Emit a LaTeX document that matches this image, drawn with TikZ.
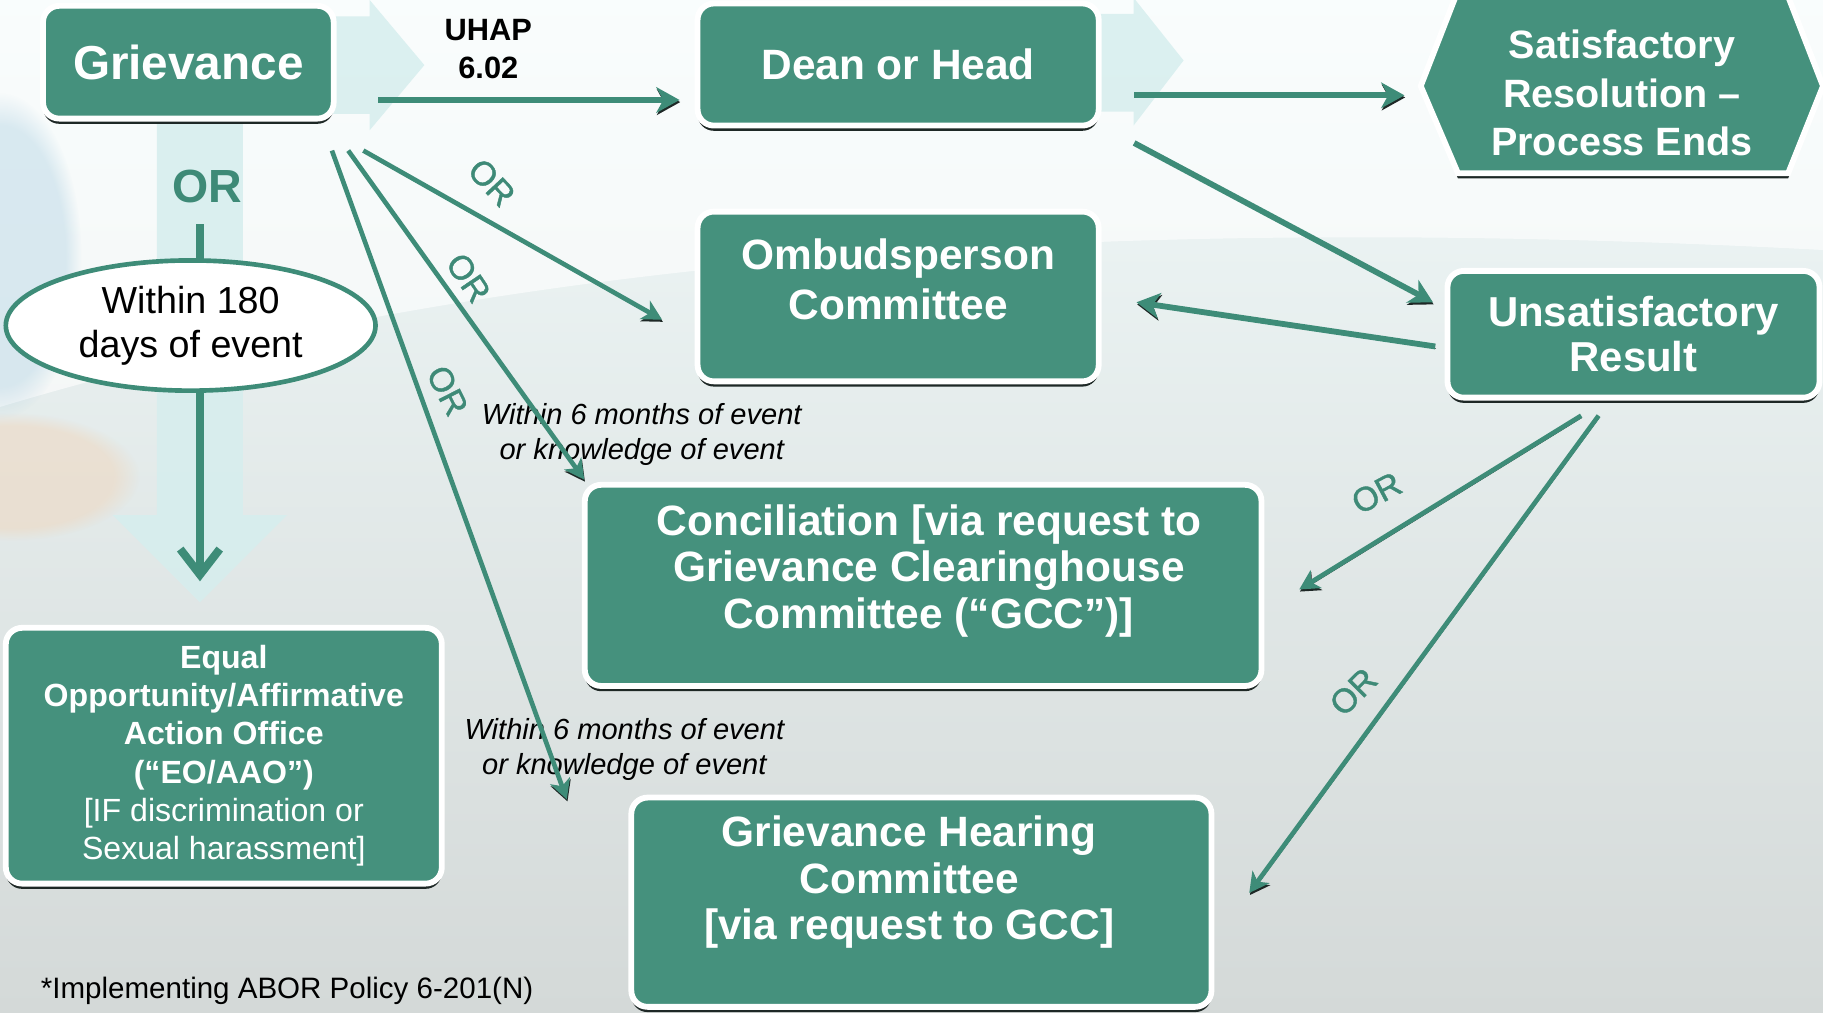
\documentclass[tikz,border=0pt]{standalone}
\usepackage{fontspec}
\setmainfont{Liberation Sans}
\newfontfamily\orfont[FakeBold=1.2]{Liberation Sans}
\usetikzlibrary{arrows.meta,calc,shapes.geometric,shadows,fadings}
\definecolor{boxteal}{HTML}{45917D}
\definecolor{arrteal}{HTML}{3E8C78}
\definecolor{orteal}{HTML}{3E8A77}
\definecolor{shadowc}{HTML}{1E2826}
\definecolor{bgtop}{HTML}{F1FAFA}
\definecolor{bgbot}{HTML}{D4D9D8}
\definecolor{pale}{HTML}{D6EEEE}
\definecolor{leftblue}{HTML}{B4D4E4}
\definecolor{peach}{HTML}{F0D6BC}
\newcommand\fsz[2]{\fontsize{#1}{#2}\selectfont}
\begin{document}
\begin{tikzpicture}[x=1pt,y=-1pt,
  box/.style={rectangle, rounded corners=14pt, fill=boxteal, draw=white, line width=5pt,
    inner sep=0pt, text=white, font=\bfseries\fsz{36.5}{40}, align=center,
    drop shadow={shadow xshift=0pt, shadow yshift=-4.5pt, fill=shadowc, opacity=1}},
  boxtext/.style={text=white, font=\bfseries\fsz{36.5}{40}, align=center, inner sep=0pt},
  arr/.style={draw=arrteal, line width=5pt, -{Stealth[length=20pt,width=22pt,inset=6pt]},
    preaction={draw=shadowc, transform canvas={xshift=0.6pt,yshift=-1.8pt}}},
  fan/.style={arr, line width=4pt, -{Stealth[length=17pt,width=18pt,inset=5pt]}},
  orlab/.style={text=orteal, font=\orfont\fsz{29}{32}, inner sep=0pt},
  note/.style={font=\itshape\fsz{25}{30}, align=center, inner sep=0pt},
  paleshape/.style={fill=pale, opacity=0.85}
]
\useasboundingbox (0,0) rectangle (1568,871);
% background
\shade[top color=bgtop, bottom color=bgbot] (0,0) rectangle (1568,871);
\fill[white, opacity=0.6] (0,0) -- (1568,0) -- (1568,215) .. controls (900,180) and (400,230) .. (0,350) -- cycle;
\fill[leftblue, opacity=0.45, path fading=circle with fuzzy edge 20 percent] (0,220) ellipse [x radius=70, y radius=140];
\fill[peach, opacity=0.5, path fading=circle with fuzzy edge 20 percent] (10,410) ellipse [x radius=110, y radius=55];
% pale block arrows
\fill[paleshape] (135,100) -- (209,100) -- (209,443) -- (247,443) -- (172,518) -- (97,443) -- (135,443) -- cycle;
\fill[paleshape] (280,14) -- (318,14) -- (318,0) -- (365,56) -- (318,112) -- (318,98) -- (280,98) -- cycle;
\fill[paleshape] (940,12) -- (975,12) -- (975,-2) -- (1018,52) -- (975,108) -- (975,96) -- (940,96) -- cycle;

% boxes
\node[box, minimum width=250, minimum height=97, font=\bfseries\fsz{41}{45}] (griev) at (162,53.5) {Grievance};
\node[box, minimum width=345, minimum height=105] (dean) at (772.5,55.5) {Dean or Head};
\node[box, minimum width=345, minimum height=146] (omb) at (772.5,255) {};
\node[boxtext, font=\bfseries\fsz{36.5}{43}] (ombT) at (772.5,240) {Ombudsperson\\Committee};
\node[box, minimum width=320, minimum height=109, font=\bfseries\fsz{36}{39}] (unsat) at (1405,287.5) {Unsatisfactory\\Result};
\node[box, minimum width=582, minimum height=173] (conc) at (794,503.5) {};
\node[boxtext] (concT) at (799,491) {Conciliation [via request to\\Grievance Clearinghouse\\Committee (“GCC”)]};
\node[box, minimum width=499, minimum height=180] (gh) at (792.5,776) {};
\node[boxtext] (ghT) at (782,759) {Grievance Hearing\\Committee\\{[}via request to GCC]};
\node[box, minimum width=375, minimum height=220, font=\bfseries\fsz{27.6}{33}] (eo) at (192.5,650)
  {Equal\\Opportunity/Affirmative\\Action Office\\(“EO/AAO”)\\\mdseries{[}IF discrimination or\\\mdseries Sexual harassment]};

% hexagon
\coordinate (satL) at (1222,74);
\fill[boxteal, draw=white, line width=5pt, drop shadow={shadow xshift=0pt, shadow yshift=-4.5pt, fill=shadowc, opacity=1}]
  (satL) -- (1252,-3) -- (1538,-3) -- (1568,74) -- (1538,149) -- (1254,149) -- cycle;
\node[boxtext, font=\bfseries\fsz{34}{41.5}] (sat) at (1395,80) {Satisfactory\\Resolution –\\Process Ends};

% ellipse
\node[ellipse, draw=arrteal, line width=4pt, fill=white, minimum width=318, minimum height=112,
  inner sep=0pt, align=center, font=\fsz{32.4}{38}] (ell) at (164,280) {Within 180\\days of event};

% labels
\node[text=orteal, font=\bfseries\fsz{40}{44}, inner sep=0pt] (orv) at (178,160) {OR};
\node[font=\bfseries\fsz{26.5}{33}, align=center, inner sep=0pt] (uhap) at (420,42) {UHAP\\6.02};
\node[note] (n1) at (552,374) {Within 6 months of event\\or knowledge of event};
\node[note] (n2) at (537,645) {Within 6 months of event\\or knowledge of event};
\node[font=\fsz{25.4}{30}, anchor=west, inner sep=0pt] (foot) at (35,852) {*Implementing ABOR Policy 6-201(N)};

% connectors
\draw[arr] ($(griev.east)+(36,32.5)$) -- ($(dean.west)+(-13,30.5)$);
\draw[arr] ($(dean.east)+(28,26.5)$) -- ($(satL)+(-14,8)$);
\draw[arr] ($(dean.east)+(28,67.5)$) -- ($(unsat.west)+(-10,-27.5)$);
\draw[arr] ($(unsat.west)+(-8,10.5)$) -- ($(omb.east)+(30,5)$);
\draw[fan] ($(griev.south east)+(23,25)$) -- ($(omb.west)+(-28,20)$);
\draw[fan] ($(griev.south east)+(10,25)$) -- ($(conc.north west)+(2,-2)$);
\draw[fan] ($(griev.south east)+(-4,25)$) -- ($(gh.north west)+(-53,4)$);
\draw[fan] ($(unsat.south)+(-45,13)$) -- ($(conc.east)+(30,3.5)$);
\draw[fan] ($(unsat.south)+(-30,13)$) -- ($(gh.east)+(30,-8)$);
\draw[draw=arrteal, line width=7pt] ($(ell.north)+(8,-29)$) -- ($(ell.north)+(8,1)$);
\draw[draw=arrteal, line width=7pt, -{Straight Barb[length=22pt,width=34pt]},
  preaction={draw=shadowc, transform canvas={xshift=0.8pt,yshift=-1pt}}]
  ($(ell.south)+(8,-1)$) -- ($(ell.south)+(8,162)$);

% OR labels on connectors
\node[orlab, rotate=-47] (or1) at (423,157) {OR};
\node[orlab, rotate=-56] (or2) at (403,239) {OR};
\node[orlab, rotate=-63] (or3) at (385,336) {OR};
\node[orlab, rotate=28] (or4) at (1184,424) {OR};
\node[orlab, rotate=45] (or5) at (1164,595) {OR};
\end{tikzpicture}
\end{document}
